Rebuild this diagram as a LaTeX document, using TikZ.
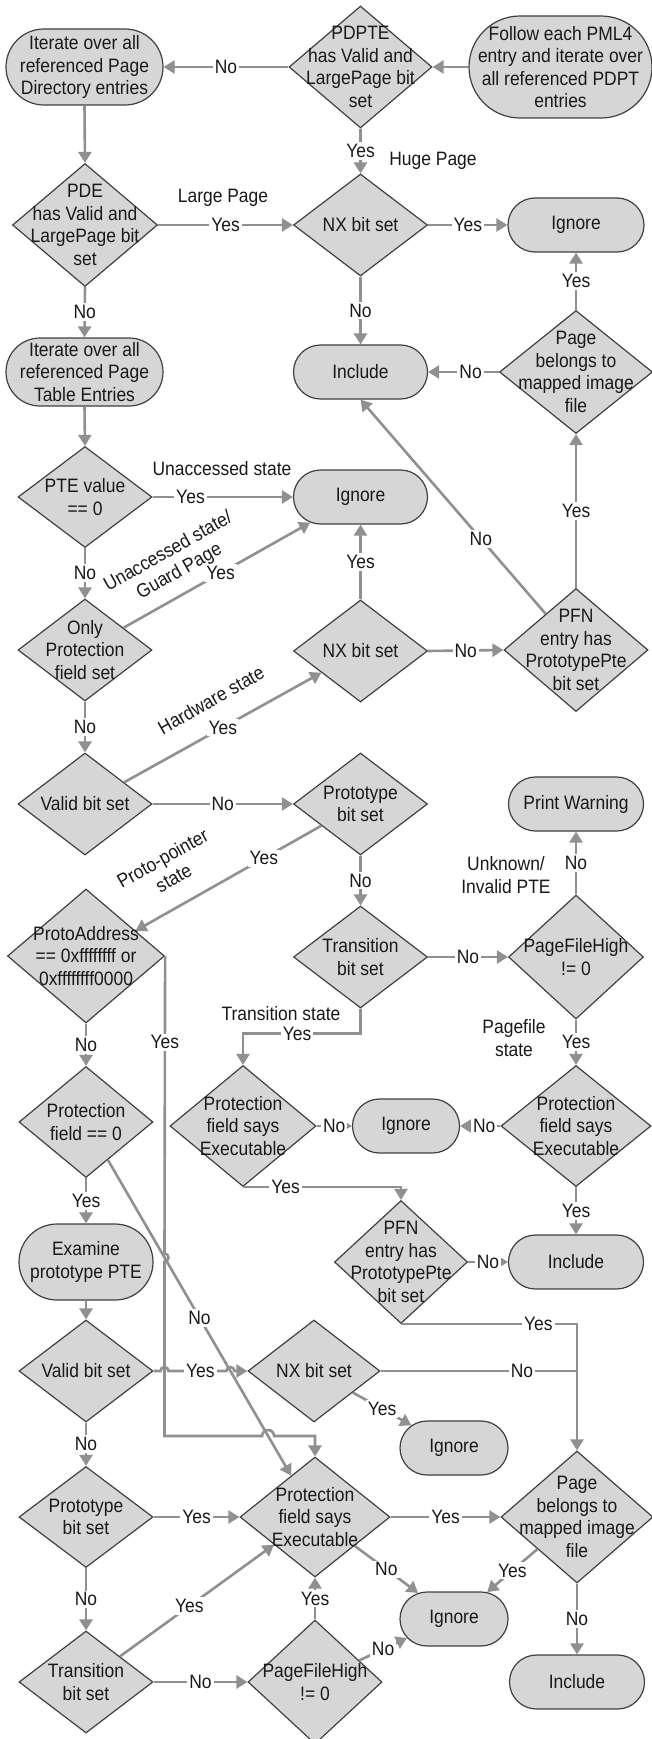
\documentclass[tikz,border=0pt]{standalone}
\usepackage{fontspec}
\setmainfont{Liberation Sans}[FakeStretch=0.9]
\usetikzlibrary{shapes.geometric,shapes.misc,arrows.meta}
\definecolor{fillc}{RGB}{214,214,214}
\definecolor{edgec}{RGB}{64,64,64}
\definecolor{linec}{RGB}{144,144,144}
\definecolor{txtc}{RGB}{25,25,25}
\begin{document}
\begin{tikzpicture}[x=0.5pt,y=-0.5pt,
  font=\fontsize{9.7}{11.3}\selectfont,
  txt/.style={align=center, text=txtc, inner sep=0pt},
  dia/.style 2 args={diamond, draw=edgec, line width=0.6pt, fill=fillc, inner sep=0pt, minimum width=#1*0.5pt, minimum height=#2*0.5pt},
  box/.style 2 args={rounded rectangle, draw=edgec, line width=0.6pt, fill=fillc, inner sep=0pt, minimum width=#1*0.5pt, minimum height=#2*0.5pt},
  conn/.style={draw=linec, line width=1.3pt, -{Triangle[length=5.5pt,width=6.5pt]}},
  seg/.style={draw=linec, line width=1.3pt},
  lbl/.style={fill=white, inner sep=1pt, text=txtc},
  note/.style={align=center, text=txtc, inner sep=0pt}
]
\useasboundingbox (0,0) rectangle (652,1739);
\fill[white] (0,0) rectangle (652,1739);

% ---------- nodes ----------
\node[box={157}{76}, label={[txt]center:{Iterate over all\\referenced Page\\Directory entries}}] (itpd) at (84.5,67) {};
\node[dia={143}{122}, label={[txt]center:{PDPTE\\has Valid and\\LargePage bit\\set}}] (pdpte) at (360.5,67) {};
\node[box={183}{102}, label={[txt]center:{Follow each PML4\\entry and iterate over\\all referenced PDPT\\entries}}] (follow) at (560.5,67) {};

\node[dia={145}{123}, label={[txt]center:{PDE\\has Valid and\\LargePage bit\\set}}] (pde) at (85,225) {};
\node[dia={134}{102}, label={[txt]center:{NX bit set}}] (nx1) at (360.5,225) {};
\node[box={136}{54}, label={[txt]center:{Ignore}}] (ign1) at (576,225) {};

\node[box={157}{68}, label={[txt]center:{Iterate over all\\referenced Page\\Table Entries}}] (itpte) at (84.5,372) {};
\node[box={134}{54}, label={[txt]center:{Include}}] (inc1) at (360.5,372) {};
\node[dia={153}{123}, label={[txt]center:{Page\\belongs to\\mapped image\\file}}] (page1) at (576,372) {};

\node[dia={134}{101}, label={[txt]center:{PTE value\\== 0}}] (pte0) at (85,497) {};
\node[box={134}{54}, label={[txt]center:{Ignore}}] (ign2) at (360.5,497) {};

\node[dia={134}{102}, label={[txt]center:{Only\\Protection\\field set}}] (only) at (85,650) {};
\node[dia={134}{102}, label={[txt]center:{NX bit set}}] (nx2) at (360.5,651) {};
\node[dia={144}{123}, label={[txt]center:{PFN\\entry has\\PrototypePte\\bit set}}] (pfn1) at (576,650) {};

\node[dia={134}{102}, label={[txt]center:{Valid bit set}}] (valid1) at (85,804) {};
\node[dia={134}{102}, label={[txt]center:{Prototype\\bit set}}] (proto1) at (360.5,804) {};
\node[box={135}{54}, label={[txt]center:{Print Warning}}] (warn) at (576,804) {};

\node[dia={157}{134}, label={[txt]center:{ProtoAddress\\== 0xffffffff or\\0xffffffff0000}}] (paddr) at (86,956) {};
\node[dia={134}{102}, label={[txt]center:{Transition\\bit set}}] (trans1) at (360.5,957) {};
\node[dia={135}{124}, label={[txt]center:{PageFileHigh\\!= 0}}] (pfh1) at (576,957) {};

\node[dia={134}{111}, label={[txt]center:{Protection\\field == 0}}] (prot0) at (86,1122) {};
\node[dia={146}{121}, label={[txt]center:{Protection\\field says\\Executable}}] (pfse1) at (243,1126) {};
\node[box={107}{54}, label={[txt]center:{Ignore}}] (ign3) at (406,1126) {};
\node[dia={150}{121}, label={[txt]center:{Protection\\field says\\Executable}}] (pfse2) at (576,1126) {};

\node[box={134}{76}, label={[txt]center:{Examine\\prototype PTE}}] (exam) at (86,1262) {};
\node[dia={133}{123}, label={[txt]center:{PFN\\entry has\\PrototypePte\\bit set}}] (pfn2) at (401,1262) {};
\node[box={135}{54}, label={[txt]center:{Include}}] (inc2) at (576,1262) {};

\node[dia={134}{102}, label={[txt]center:{Valid bit set}}] (valid2) at (86,1371) {};
\node[dia={132}{102}, label={[txt]center:{NX bit set}}] (nx3) at (314,1371) {};
\node[box={108}{54}, label={[txt]center:{Ignore}}] (ign4) at (454,1448) {};

\node[dia={134}{101}, label={[txt]center:{Prototype\\bit set}}] (proto2) at (86,1517) {};
\node[dia={150}{120}, label={[txt]center:{Protection\\field says\\Executable}}] (pfse3) at (315,1517) {};
\node[dia={152}{132}, label={[txt]center:{Page\\belongs to\\mapped image\\file}}] (page2) at (577,1517) {};

\node[box={108}{54}, label={[txt]center:{Ignore}}] (ign5) at (454,1619) {};
\node[dia={134}{102}, label={[txt]center:{Transition\\bit set}}] (trans2) at (86,1682) {};
\node[dia={134}{124}, label={[txt]center:{PageFileHigh\\!= 0}}] (pfh2) at (315,1682) {};
\node[box={135}{54}, label={[txt]center:{Include}}] (inc3) at (577,1682) {};

% ---------- free notes ----------
\node[note] (n1) at (433,161) {Huge Page};
\node[note] (n2) at (223,198) {Large Page};
\node[note] (n3) at (222,469) {Unaccessed state};
\node[note, rotate=29.4] (n4) at (174,562) {Unaccessed state/\\Guard Page};
\node[note, rotate=29.5] (n5) at (211,700) {Hardware state};
\node[note, rotate=29.3] (n6) at (168,868) {Proto-pointer\\state};
\node[note] (n7) at (506,875) {Unknown/\\Invalid PTE};
\node[note] (n8) at (281,1014) {Transition state};
\node[note] (n9) at (514,1038) {Pagefile\\state};

% ---------- connectors ----------
\draw[conn] (follow.west) -- (pdpte.east);
\draw[conn] (pdpte.west) -- node[lbl]{No} (itpd.east);
\draw[conn] (pdpte.south) -- node[lbl]{Yes} (nx1.north);
\draw[conn] (itpd.south) -- (pde.north);
\draw[conn] (pde.east) -- node[lbl]{Yes} (nx1.west);
\draw[conn] (nx1.east) -- node[lbl]{Yes} (ign1.west);
\draw[conn] (nx1.south) -- node[lbl]{No} (inc1.north);
\draw[conn] (page1.north) -- node[lbl]{Yes} (ign1.south);
\draw[conn] (page1.west) -- node[lbl,pos=0.4]{No} (inc1.east);
\draw[conn] (pde.south) -- node[lbl]{No} (itpte.north);
\draw[conn] (itpte.south) -- (pte0.north);
\draw[conn] (pte0.east) -- node[lbl,pos=0.27]{Yes} (ign2.west);
\draw[conn] (pte0.south) -- node[lbl]{No} (only.north);
\draw[conn] (only.30) -- node[lbl,pos=0.52]{Yes} (ign2.207);
\draw[conn] (only.south) -- node[lbl]{No} (valid1.north);
\draw[conn] (nx2.north) -- node[lbl]{Yes} (ign2.south);
\draw[conn] (nx2.east) -- node[lbl]{No} (pfn1.west);
\draw[conn] (pfn1.north) -- node[lbl]{Yes} (page1.south);
\draw[conn] (pfn1.130) -- node[lbl,pos=0.35]{No} (inc1.south);
\draw[conn] (valid1.29) -- node[lbl]{Yes} (nx2.209);
\draw[conn] (valid1.east) -- node[lbl]{No} (proto1.west);
\draw[conn] (proto1.209) -- node[lbl,pos=0.31]{Yes} (paddr.27);
\draw[conn] (proto1.south) -- node[lbl]{No} (trans1.north);
\draw[conn] (trans1.east) -- node[lbl]{No} (pfh1.west);
\draw[conn] (pfh1.north) -- node[lbl]{No} (warn.south);
\draw[conn] (pfh1.south) -- node[lbl]{Yes} (pfse2.north);
\draw[conn] (trans1.south) -- ++(0,25) -| node[lbl,pos=0.27]{Yes} (pfse1.north);
\draw[conn] (pfse1.east) -- node[lbl]{No} (ign3.west);
\draw[conn] (pfse2.west) -- node[lbl,pos=0.4]{No} (ign3.east);
\draw[conn] (pfse1.south) -| node[lbl,pos=0.135]{Yes} (pfn2.north);
\draw[conn] (pfse2.south) -- node[lbl]{Yes} (inc2.north);
\draw[conn] (pfn2.east) -- node[lbl]{No} (inc2.west);
\draw[conn] (pfn2.south) -| node[lbl,pos=0.39]{Yes} (page2.north);
\draw[seg] (nx3.east) -- node[lbl,pos=0.72]{No} (nx3.east -| page2.north);
\draw[conn] (nx3.331) -- node[lbl]{Yes} (ign4.152);
\draw[conn] (paddr.south) -- node[lbl]{No} (prot0.north);
\draw[conn] (prot0.south) -- node[lbl]{Yes} (exam.north);
\draw[conn] (prot0.300) -- node[lbl]{No} (pfse3.120);
\draw[conn] (paddr.east) -- node[lbl,pos=0.29]{Yes} (164.5,1253.5)
   arc[start angle=90,end angle=-90,radius=2pt] -- (164.5,1436) -- (262.1,1436)
   arc[start angle=180,end angle=0,radius=3pt] -- (315,1436) -- (pfse3.north);
\draw[conn] (exam.south) -- (valid2.north);
\draw[conn] (valid2.east) -- (160.5,1371) arc[start angle=180,end angle=0,radius=2pt]
   -- node[lbl,pos=0.55]{Yes} (226.4,1371) arc[start angle=180,end angle=0,radius=2pt] -- (nx3.west);
\draw[conn] (valid2.south) -- node[lbl]{No} (proto2.north);
\draw[conn] (proto2.east) -- node[lbl]{Yes} (pfse3.west);
\draw[conn] (proto2.south) -- node[lbl]{No} (trans2.north);
\draw[conn] (trans2.37) -- node[lbl,pos=0.45]{Yes} (pfse3.214);
\draw[conn] (trans2.east) -- node[lbl]{No} (pfh2.west);
\draw[conn] (pfh2.north) -- node[lbl]{Yes} (pfse3.south);
\draw[conn] (pfh2.26) -- node[lbl]{No} (ign5.202);
\draw[conn] (pfse3.east) -- node[lbl]{Yes} (page2.west);
\draw[conn] (pfse3.324) -- node[lbl]{No} (ign5.144);
\draw[conn] (page2.219) -- node[lbl]{Yes} (ign5.39);
\draw[conn] (page2.south) -- node[lbl]{No} (inc3.north);
\end{tikzpicture}
\end{document}
